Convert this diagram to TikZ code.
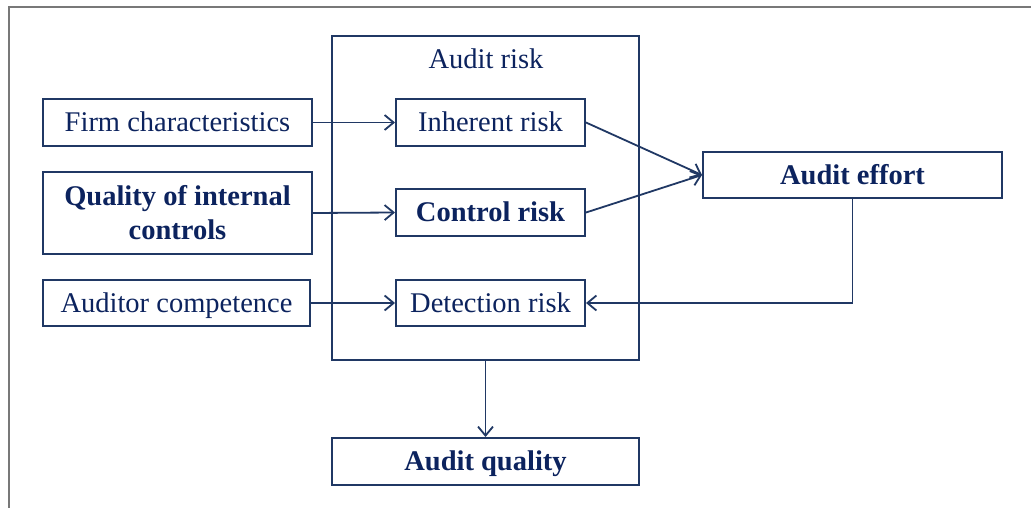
\documentclass[tikz,border=0pt]{standalone}
\usepackage{fontspec}
\setmainfont{Liberation Serif}
\usetikzlibrary{arrows.meta}
\definecolor{navytext}{RGB}{12,35,94}
\definecolor{navyline}{RGB}{32,56,100}
\definecolor{framegray}{RGB}{120,120,120}
\tikzset{
  box/.style={draw=navyline, line width=2pt, rectangle, inner sep=0pt,
    text=navytext, font=\fontsize{28.5}{34}\selectfont,
    text height=18.9pt, text depth=0pt},
  boldbox/.style={box, font=\fontsize{28.5}{34}\selectfont\bfseries},
  twoline/.style={draw=navyline, line width=2pt, rectangle, inner sep=0pt,
    text=navytext, font=\fontsize{28.5}{34}\selectfont\bfseries, align=center},
  conn/.style={draw=navyline, line width=1.8pt, -{Straight Barb[length=9pt,width=15pt,line width=1.8pt]}},
  lbl/.style={text=navytext, font=\fontsize{28.5}{34}\selectfont, inner sep=0pt, anchor=base}
}
\begin{document}
\begin{tikzpicture}[x=1pt,y=-1pt]
\useasboundingbox (0,0) rectangle (1031,508);
\fill[white] (0,0) rectangle (1031,508);
\draw[framegray, line width=2pt] (8.5,508) -- (8.5,7) -- (1031,7);

\node[box, minimum width=307, minimum height=324] (riskbox) at (485.5,198) {};
\node[lbl] (risklbl) at (486,69) {Audit risk};

\node[box, minimum width=269, minimum height=47] (firm) at (177.5,122.5) {Firm characteristics};
\node[twoline, minimum width=269, minimum height=81] (qual) at (177.5,213) {Quality of internal\\controls};
\node[box, minimum width=267, minimum height=46] (comp) at (176.5,303) {Auditor competence};

\node[box, minimum width=189, minimum height=47] (inh) at (490.5,122.5) {Inherent risk};
\node[boldbox, minimum width=189, minimum height=47] (ctrl) at (490.5,212.5) {Control risk};
\node[box, minimum width=189, minimum height=46] (det) at (490.5,303) {Detection risk};

\node[boldbox, minimum width=299, minimum height=46] (eff) at (852.5,175) {Audit effort};
\node[boldbox, minimum width=307, minimum height=47] (aq) at (485.5,461.5) {Audit quality};

\draw[conn] (firm.east) -- (inh.west);
\draw[conn] (qual.east) -- (ctrl.west);
\draw[conn] (comp.east) -- (det.west);
\draw[conn] (inh.east) -- (eff.west);
\draw[conn] (ctrl.east) -- (eff.west);
\draw[conn] (eff.south) -- (eff.south |- det.east) -- (det.east);
\draw[conn] (riskbox.south) -- (aq.north);
\end{tikzpicture}
\end{document}
